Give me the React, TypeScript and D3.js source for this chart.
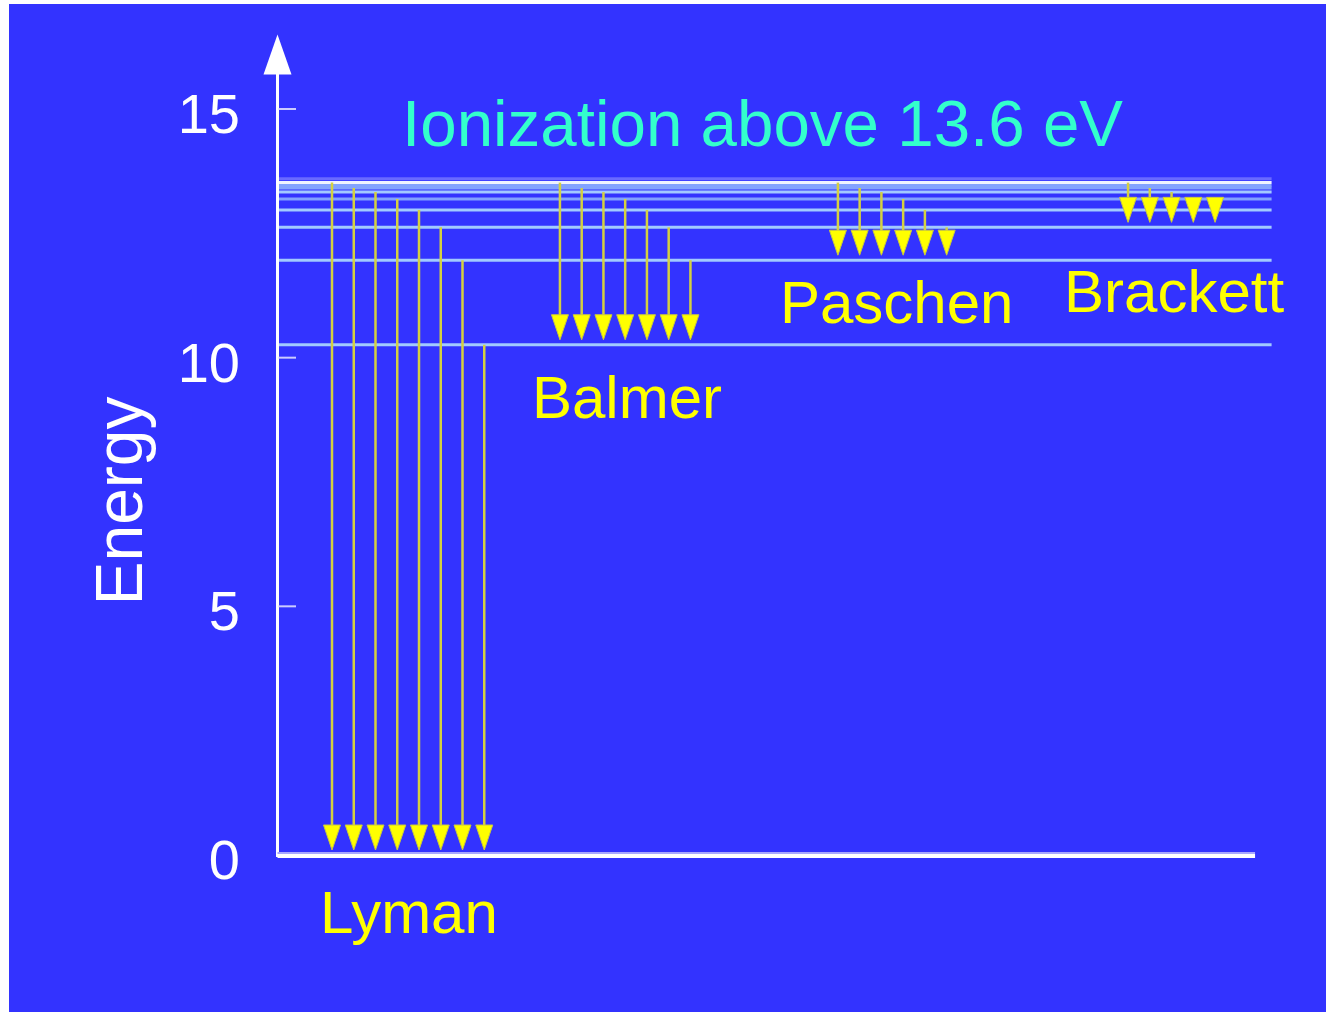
import { useEffect } from "react";
import * as d3 from "d3";

// energy levels (eV), n = 2 .. high n
const levelEnergy = [10.26, 11.96, 12.62, 12.97, 13.19, 13.33, 13.41, 13.46, 13.52];
const ionizationEnergy = 13.6;
// upper levels that arrows start from (left to right inside each series)
const arrowSources = [13.52, 13.41, 13.33, 13.19, 12.97, 12.62, 11.96, 10.26];

const seriesNames = ["Lyman", "Balmer", "Paschen", "Brackett"];
const seriesLower = [0, 10.26, 11.96, 12.62];

const yTicks = [0, 5, 10, 15];
const axisLabel = "Energy";
const title = "Ionization above 13.6 eV";

export default function App() {
  useEffect(() => {
    document.body.style.margin = "0";
    document.body.style.background = "#ffffff";
  }, []);

  const width = 1326;
  const height = 1012;

  const y = d3.scaleLinear().domain([0, 15]).range([855, 109]);
  // horizontal slots, one per arrow
  const x = d3.scaleLinear().domain([0, 40]).range([332, 332 + 40 * 21.75]);

  const axisX = 277.5;
  const slotStart = [0, 10.48, 23.26, 36.6];
  const lineEnd = x(43.2);
  const baseEnd = x(42.44);

  // label placement: [dx from first arrow, dy below lower level]
  const labelPos = [
    [-12, 78],
    [-28, 73],
    [-58, 63],
    [-64, 85],
  ];

  const headW = 17;
  const headH = 25;

  const arrows = seriesNames.flatMap((name, si) => {
    const lower = seriesLower[si];
    return arrowSources
      .filter((e) => e > lower + 0.01)
      .map((e, i) => ({ key: `${name}-${i}`, x: x(slotStart[si] + i), y0: y(e), y1: y(lower) - 5 }));
  });

  const levelColor = (e: number, i: number) => {
    if (i === levelEnergy.length - 1) return "#eef2ff";
    if (e > 13.4 || (e > 13.1 && e < 13.25)) return "#82a2ff";
    return "#a2caff";
  };

  return (
    <svg width={width} height={height} style={{ display: "block" }}>
      <rect x={0} y={0} width={width} height={height} fill="#ffffff" />
      <rect x={9} y={4} width={width - 9} height={height - 4} fill="#3333ff" />

      {/* ionization limit */}
      <line x1={axisX} x2={lineEnd} y1={y(ionizationEnergy)} y2={y(ionizationEnergy)} stroke="#6a6aff" strokeWidth={3} />

      {/* energy levels */}
      {levelEnergy.map((e, i) => (
        <line key={i} x1={axisX} x2={lineEnd} y1={y(e)} y2={y(e)} stroke={levelColor(e, i)} strokeWidth={3} />
      ))}

      {/* arrows */}
      {arrows.map((a) => (
        <g key={a.key}>
          <line x1={a.x} x2={a.x} y1={a.y0} y2={a.y1 - headH + 2} stroke="#d4d040" strokeWidth={2.5} />
          <path
            d={`M${a.x - headW / 2},${a.y1 - headH} L${a.x + headW / 2},${a.y1 - headH} L${a.x},${a.y1} Z`}
            fill="#ffff00"
            stroke="#c8c840"
            strokeWidth={1}
          />
        </g>
      ))}

      {/* y axis */}
      <line x1={axisX} x2={axisX} y1={y(0) + 2} y2={y(16.5) + 30} stroke="#ffffff" strokeWidth={3} />
      <path
        d={`M${axisX},${y(16.5)} L${axisX + 14},${y(16.5) + 40} L${axisX - 14},${y(16.5) + 40} Z`}
        fill="#ffffff"
      />
      <line x1={axisX} x2={baseEnd} y1={y(0) + 1} y2={y(0) + 1} stroke="#ffffff" strokeWidth={4} />
      <line x1={axisX} x2={baseEnd} y1={y(0) - 2} y2={y(0) - 2} stroke="#a8a8ff" strokeWidth={2} />

      {yTicks.map((t) => (
        <g key={t}>
          {t > 0 && (
            <line x1={axisX + 1} x2={296} y1={y(t)} y2={y(t)} stroke="#ccccff" strokeWidth={2} />
          )}
          <text
            x={240}
            y={y(t) + 24}
            textAnchor="end"
            fill="#ffffff"
            fontFamily="'Liberation Sans', Arial, sans-serif"
            fontSize={56}
          >
            {t}
          </text>
        </g>
      ))}

      <text
        transform={`translate(142, 501) rotate(-90)`}
        textAnchor="middle"
        fill="#ffffff"
        fontFamily="'Liberation Sans', Arial, sans-serif"
        fontSize={66}
      >
        {axisLabel}
      </text>

      <text
        x={402}
        y={146}
        fill="#33ffcc"
        fontFamily="'Liberation Sans', Arial, sans-serif"
        fontSize={65.5}
      >
        {title}
      </text>

      {seriesNames.map((name, si) => (
        <text
          key={name}
          x={x(slotStart[si]) + labelPos[si][0]}
          y={y(seriesLower[si]) + labelPos[si][1]}
          fill="#ffff00"
          fontFamily="'Liberation Sans', Arial, sans-serif"
          fontSize={60}
        >
          {name}
        </text>
      ))}
    </svg>
  );
}
